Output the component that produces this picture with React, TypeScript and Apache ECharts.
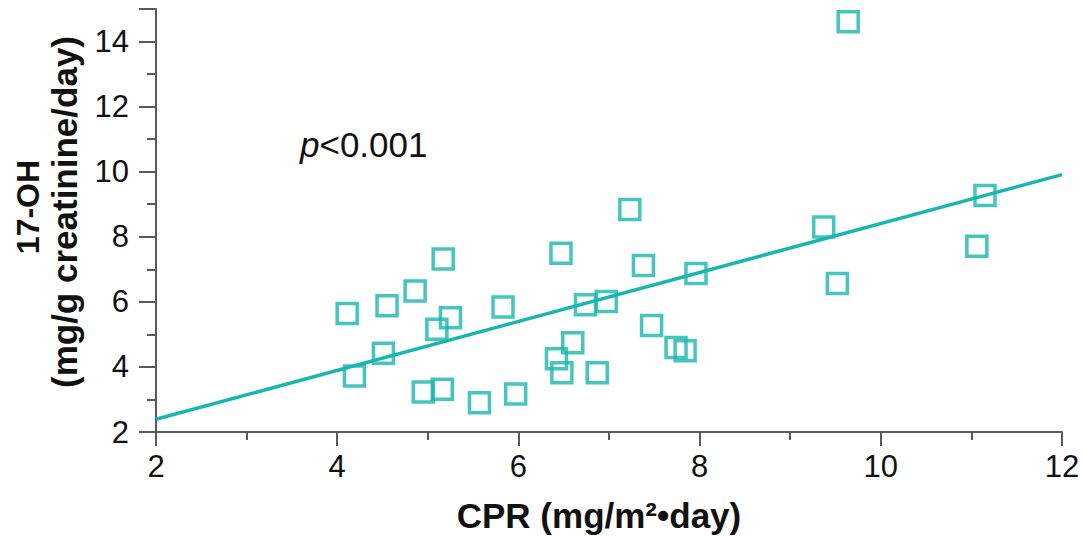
import React, { useEffect, useRef } from "react";
import * as echarts from "echarts";

const cprValues = [4.11, 4.19, 4.51, 4.55, 4.86, 5.1, 5.17, 5.25, 4.95, 5.16, 5.57, 5.97, 5.83, 6.42, 6.48, 6.47, 6.6, 6.74, 6.87, 6.97, 7.23, 7.38, 7.47, 7.74, 7.84, 7.96, 9.37, 9.52, 9.64, 11.06, 11.15];
const ohValues = [5.64, 3.72, 4.42, 5.88, 6.33, 5.16, 7.32, 5.51, 3.23, 3.31, 2.9, 3.17, 5.84, 4.25, 3.82, 7.49, 4.74, 5.91, 3.82, 6.01, 8.84, 7.12, 5.27, 4.6, 4.5, 6.87, 8.3, 6.56, 14.61, 7.71, 9.27];
const fitX = [2, 12];
const fitY = [2.39, 9.91];

const TEAL = "#17B7AD";
const FONT = "Liberation Sans, Arial, Helvetica, sans-serif";

export default function App() {
  const ref = useRef<HTMLDivElement>(null);
  useEffect(() => {
    if (!ref.current) return;
    const chart = echarts.init(ref.current, null, { renderer: "svg" });
    const axisCommon = {
      axisLine: { show: true, lineStyle: { color: "#5a5a5a", width: 2 } },
      splitLine: { show: false },
      axisLabel: { color: "#111", fontSize: 31, fontFamily: FONT },
      minorTick: { show: true, splitNumber: 2, lineStyle: { color: "#5a5a5a", width: 2 } },
      axisTick: { show: true, lineStyle: { color: "#5a5a5a", width: 2 } },
    };
    chart.setOption({
      animation: false,
      backgroundColor: "#fff",
      grid: { left: 156, right: 21, top: 9, bottom: 105, containLabel: false },
      xAxis: {
        type: "value",
        min: 2,
        max: 12,
        interval: 2,
        ...axisCommon,
        axisTick: { ...axisCommon.axisTick, length: 14 },
        minorTick: { ...axisCommon.minorTick, length: 8 },
        axisLabel: { ...axisCommon.axisLabel, margin: 19 },
      },
      yAxis: {
        type: "value",
        min: 2,
        max: 15,
        interval: 2,
        ...axisCommon,
        axisTick: { ...axisCommon.axisTick, length: 17 },
        minorTick: { ...axisCommon.minorTick, length: 9 },
        axisLabel: {
          ...axisCommon.axisLabel,
          margin: 27,
          formatter: (v: number) => (v % 2 === 0 ? String(v) : ""),
        },
      },
      series: [
        {
          type: "line",
          data: fitX.map((x, i) => [x, fitY[i]]),
          symbol: "none",
          lineStyle: { color: TEAL, width: 3.5 },
          z: 2,
        },
        {
          type: "scatter",
          data: cprValues.map((x, i) => [x, ohValues[i]]),
          symbol: "rect",
          symbolSize: 20,
          itemStyle: { color: "rgba(0,0,0,0)", borderColor: TEAL, borderWidth: 3.5 },
          z: 3,
        },
      ],
      graphic: [
        {
          type: "text",
          x: 599,
          y: 515,
          style: {
            text: "CPR (mg/m²•day)",
            fontSize: 35,
            fontWeight: "bold",
            fontFamily: FONT,
            fill: "#111",
            align: "center",
            verticalAlign: "middle",
          },
        },
        {
          type: "text",
          x: 28,
          y: 207,
          rotation: Math.PI / 2,
          style: {
            text: "17-OH",
            fontSize: 32,
            fontWeight: "bold",
            fontFamily: FONT,
            fill: "#111",
            align: "center",
            verticalAlign: "middle",
          },
        },
        {
          type: "text",
          x: 64,
          y: 212,
          rotation: Math.PI / 2,
          style: {
            text: "(mg/g creatinine/day)",
            fontSize: 35,
            fontWeight: "bold",
            fontFamily: FONT,
            fill: "#111",
            align: "center",
            verticalAlign: "middle",
          },
        },
        {
          type: "text",
          x: 300,
          y: 144,
          style: {
            text: "{i|p}{n|<0.001}",
            fontFamily: FONT,
            fill: "#111",
            align: "left",
            verticalAlign: "middle",
            rich: {
              i: { fontSize: 35, fontStyle: "italic", fontFamily: FONT, fill: "#111" },
              n: { fontSize: 35, fontFamily: FONT, fill: "#111" },
            },
          },
        },
      ],
    });
    return () => chart.dispose();
  }, []);
  return (
    <div
      ref={ref}
      style={{ position: "absolute", left: 0, top: 0, width: 1083, height: 537 }}
    />
  );
}
